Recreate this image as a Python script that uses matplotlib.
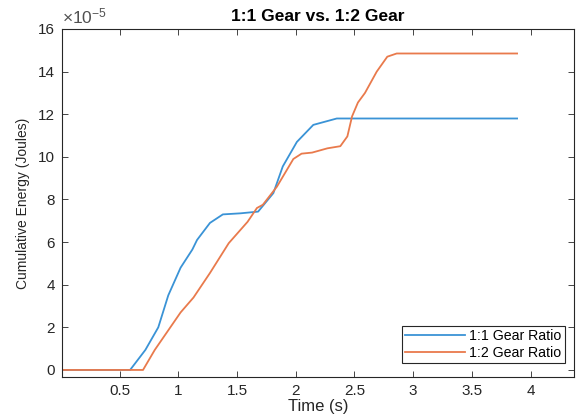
import matplotlib
matplotlib.use("Agg")
import matplotlib.pyplot as plt

plt.rcParams['font.family'] = ['Liberation Sans', 'DejaVu Sans']
plt.rcParams['mathtext.fontset'] = 'custom'
plt.rcParams['mathtext.rm'] = 'Liberation Sans'
plt.rcParams['mathtext.it'] = 'Liberation Sans:italic'

# values (energy in units of 1e-5 J)
t_11 = [0.0, 0.59, 0.72, 0.83, 0.915, 1.02, 1.12, 1.16, 1.27, 1.38, 1.53, 1.68,
        1.81, 1.89, 2.01, 2.15, 2.35, 3.885]
e_11 = [0.0, 0.0, 0.94, 2.0, 3.5, 4.8, 5.65, 6.1, 6.9, 7.3, 7.35, 7.43,
        8.3, 9.55, 10.7, 11.5, 11.8, 11.8]

t_12 = [0.0, 0.70, 0.80, 0.92, 1.02, 1.13, 1.27, 1.43, 1.59, 1.67, 1.72, 1.84,
        1.98, 2.05, 2.14, 2.27, 2.38, 2.44, 2.48, 2.53, 2.59, 2.69, 2.78, 2.86, 3.885]
e_12 = [0.0, 0.0, 0.94, 1.9, 2.7, 3.4, 4.55, 5.95, 6.95, 7.6, 7.75, 8.6,
        9.9, 10.15, 10.2, 10.4, 10.5, 10.96, 11.9, 12.55, 13.0, 14.0, 14.7, 14.85, 14.85]

labels = ["1:1 Gear Ratio", "1:2 Gear Ratio"]
x_ticks = [0.5, 1, 1.5, 2, 2.5, 3, 3.5, 4]
x_ticklabels = ["0.5", "1", "1.5", "2", "2.5", "3", "3.5", "4"]
y_ticks = [0, 2, 4, 6, 8, 10, 12, 14, 16]

fig = plt.figure(figsize=(5.76, 4.2), dpi=100)
ax = fig.add_axes([0.1076, 0.1024, 0.889, 0.8286])

ax.plot(t_11, e_11, color="#3a93d6", lw=1.3, label=labels[0])
ax.plot(t_12, e_12, color="#e97a4c", lw=1.3, label=labels[1])

ax.set_xlim(0.01, 4.37)
ax.set_ylim(-0.33, 16)
ax.set_xticks(x_ticks)
ax.set_xticklabels(x_ticklabels)
ax.set_yticks(y_ticks)

ax.tick_params(direction="in", top=True, right=True, labelsize=11,
               colors="#262626", length=4, width=0.6, pad=5)
for s in ax.spines.values():
    s.set_linewidth(0.8)
    s.set_color("#262626")

# MATLAB-style exponent label above the y axis
ax.text(0.0, 1.006, r"$\times10^{-5}$", transform=ax.transAxes,
        fontsize=12.5, color="#505050", ha="left", va="bottom")

ax.set_title("1:1 Gear vs. 1:2 Gear", fontsize=12.5, fontweight="bold", pad=6)
ax.set_xlabel("Time (s)", fontsize=12, color="#262626", labelpad=1)
ax.set_ylabel("Cumulative Energy (Joules)", fontsize=10, color="#262626", labelpad=6)

leg = ax.legend(loc="lower right", bbox_to_anchor=(0.982, 0.04), fontsize=10.2,
                fancybox=False, framealpha=1, edgecolor="#262626", borderpad=0.25,
                handlelength=4.2, handletextpad=0.3, labelspacing=0.15,
                borderaxespad=0.0)
leg.get_frame().set_linewidth(0.8)

fig.savefig("out.png", dpi=100)
